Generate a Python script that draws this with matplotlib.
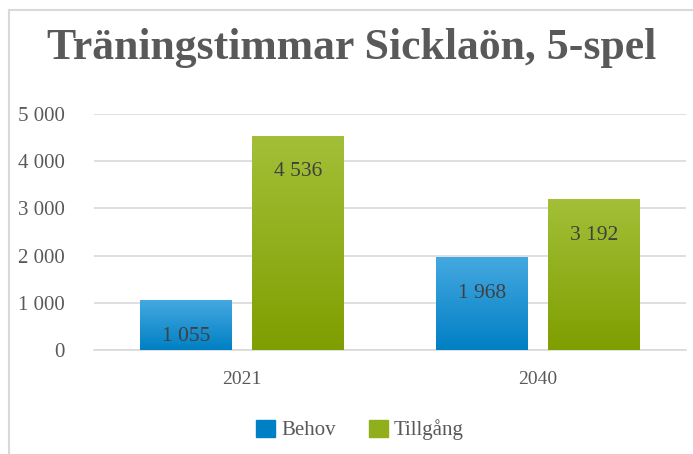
import numpy as np
import matplotlib
matplotlib.use("Agg")
import matplotlib.pyplot as plt
from matplotlib.lines import Line2D
from matplotlib.ticker import FuncFormatter

# data
years = ["2021", "2040"]
behov = [1055, 1968]
tillgang = [4536, 3192]
series_names = ["Behov", "Tillgång"]
title = "Träningstimmar Sicklaön, 5-spel"

plt.rcParams['font.family'] = ['Liberation Serif', 'DejaVu Serif']

W, H = 693, 454
fig = plt.figure(figsize=(W / 100, H / 100), dpi=100)
ax = fig.add_axes([94 / W, 1 - 350 / H, 592 / W, (350 - 114) / H])

text_col = '#595959'
blue_top, blue_bot = np.array([0.27, 0.66, 0.88]), np.array([0.0, 0.50, 0.77])
green_top, green_bot = np.array([0.64, 0.75, 0.22]), np.array([0.50, 0.62, 0.0])

x = np.arange(len(years))
bw = 0.31
gap = 0.07


def gradient_bars(xs, vals, top, bot):
    bars = ax.bar(xs, vals, width=bw, color=tuple(bot), zorder=3, linewidth=0)
    grad = np.linspace(0, 1, 256)[:, None]
    cols = top[None, None, :] * (1 - grad[:, :, None]) + bot[None, None, :] * grad[:, :, None]
    for b in bars:
        x0, w, h = b.get_x(), b.get_width(), b.get_height()
        im = ax.imshow(cols, extent=[x0, x0 + w, 0, h], origin='upper',
                       aspect='auto', zorder=3.5)
        im.set_clip_path(b)
    return bars


b1 = gradient_bars(x - bw / 2 - gap / 2, behov, blue_top, blue_bot)
b2 = gradient_bars(x + bw / 2 + gap / 2, tillgang, green_top, green_bot)

fmt = lambda v: f"{int(v):,}".replace(",", " ")
for bars, vals in [(b1, behov), (b2, tillgang)]:
    for b, v in zip(bars, vals):
        ax.annotate(fmt(v), (b.get_x() + b.get_width() / 2, v),
                    xytext=(0, -36), textcoords='offset pixels',
                    ha='center', va='center', fontsize=15.5, color='#404040', zorder=5)

ax.set_xlim(-0.5, 1.5)
ax.set_ylim(0, 5000)
ax.set_yticks(range(0, 5001, 1000))
ax.yaxis.set_major_formatter(FuncFormatter(lambda v, p: fmt(v)))
ax.set_xticks(x)
ax.set_xticklabels(years)
ax.tick_params(axis='both', length=0, labelsize=14, labelcolor=text_col)
ax.tick_params(axis='y', labelsize=15, pad=21)
ax.tick_params(axis='x', pad=15)
ax.grid(axis='y', color='#D9D9D9', linewidth=1.2, zorder=0)
ax.set_axisbelow(True)
for s in ['left', 'right', 'top']:
    ax.spines[s].set_visible(False)
ax.spines['bottom'].set_color('#D9D9D9')
ax.spines['bottom'].set_linewidth(1.2)

fig.text(352 / W, 1 - 48 / H, title, ha='center', va='center',
         fontsize=31.5, fontweight='bold', color=text_col)

handles = [plt.Rectangle((0, 0), 1, 1, color=tuple(blue_bot)),
           plt.Rectangle((0, 0), 1, 1, color=tuple(green_top * 0.5 + green_bot * 0.5))]
fig.legend(handles, series_names, loc='center', bbox_to_anchor=(360 / W, 1 - 430 / H),
           ncol=2, frameon=False, fontsize=15, labelcolor=text_col,
           handlelength=0.9, handleheight=0.9, handletextpad=0.3, columnspacing=1.6)

# chart frame
fig.add_artist(Line2D([9 / W, 9 / W], [0, 1 - 10 / H], color='#D9D9D9', lw=1.5))
fig.add_artist(Line2D([9 / W, 1], [1 - 10 / H, 1 - 10 / H], color='#D9D9D9', lw=1.5))

fig.savefig("out.png", dpi=100)
